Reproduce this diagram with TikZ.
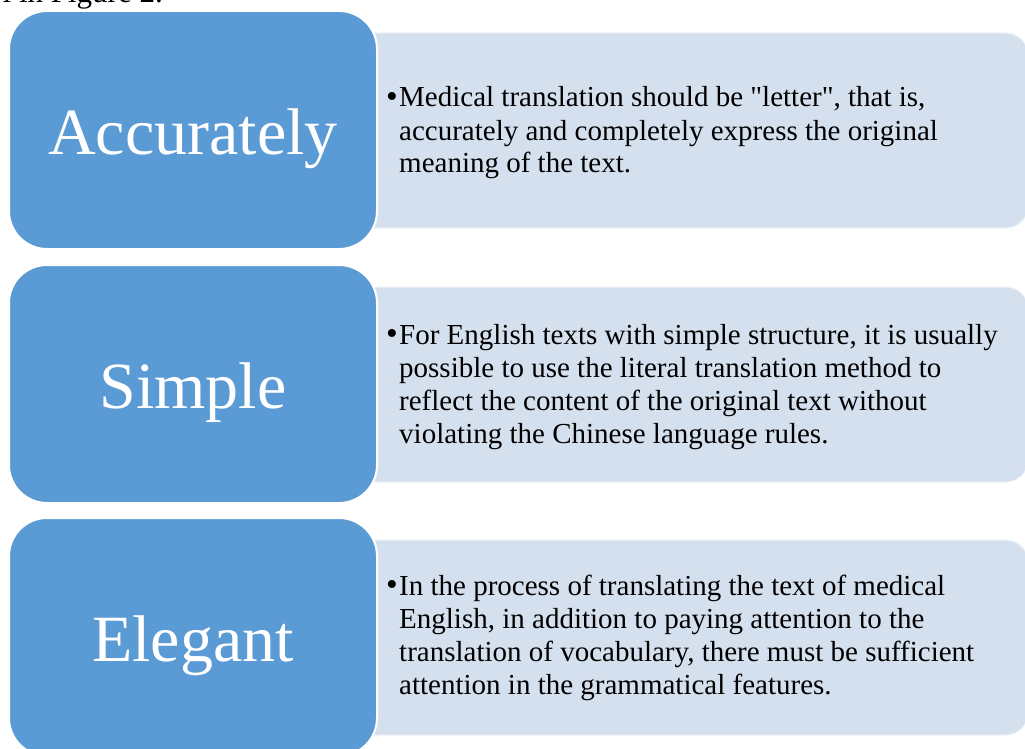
\documentclass[tikz,border=0pt]{standalone}
\usepackage{fontspec}
\setmainfont{Liberation Serif}[Ligatures=TeXOff]
\definecolor{blk}{HTML}{5B9BD5}
\definecolor{lt}{HTML}{D5E0EF}
\newcommand{\bul}{\makebox[13pt][l]{\raisebox{-0.5pt}{\scalebox{1.15}{•}}}}
\begin{document}
\begin{tikzpicture}[x=1pt,y=-1pt,
  lightbox/.style={rectangle, fill=lt, draw=white!60!lt, line width=1pt, rounded corners=22pt,
    minimum width=688pt, minimum height=195pt, inner sep=0pt},
  labelbox/.style={rectangle, fill=blk, draw=white, line width=2pt, rounded corners=38pt,
    minimum width=368pt, minimum height=238pt, inner sep=0pt},
  labeltext/.style={anchor=base, inner sep=0pt, text=white, font=\fontsize{66}{66}\selectfont},
  desc/.style={anchor=base west, inner sep=0pt, text=black}]
\useasboundingbox (0,0) rectangle (1025,749);
\clip (0,0) rectangle (1025,749);
\fill[white] (0,0) rectangle (1025,749);

\node[anchor=base east, inner sep=0pt, font=\fontsize{31}{31}\selectfont] (cap) at (163,3) {l in Figure 2.};

% light boxes
\node[lightbox] (d1) at (684,130.5) {};
\node[lightbox] (d2) at (684,384.5) {};
\node[lightbox] (d3) at (684,637.5) {};

% blue boxes
\node[labelbox] (b1) at (193,130) {};
\node[labelbox] (b2) at (193,384) {};
\node[labelbox] (b3) at (193,637) {};

\node[labeltext] (l1) at (193,154) {Accurately};
\node[labeltext] (l2) at (193,408) {Simple};
\node[labeltext] (l3) at (193,661) {Elegant};

\node[desc] (t1) at (386,107) {\parbox[t]{640pt}{\fontsize{29}{33}\selectfont\hangindent=13pt\hangafter=1\noindent
\bul Medical translation should be "letter", that is,\\
accurately and completely express the original\\
meaning of the text.}};

\node[desc] (t2) at (386,344) {\parbox[t]{640pt}{\fontsize{29}{33}\selectfont\hangindent=13pt\hangafter=1\noindent
\bul For English texts with simple structure, it is usually\\
possible to use the literal translation method to\\
reflect the content of the original text without\\
violating the Chinese language rules.}};

\node[desc] (t3) at (386,595) {\parbox[t]{640pt}{\fontsize{29}{33}\selectfont\hangindent=13pt\hangafter=1\noindent
\bul In the process of translating the text of medical\\
English, in addition to paying attention to the\\
translation of vocabulary, there must be sufficient\\
attention in the grammatical features.}};
\end{tikzpicture}
\end{document}
